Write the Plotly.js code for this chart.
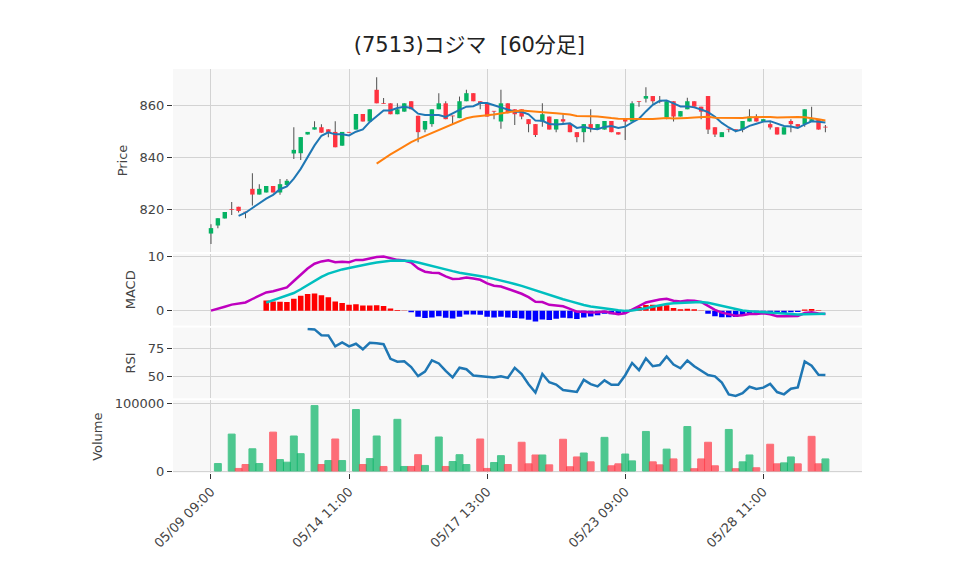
<!DOCTYPE html>
<html>
<head>
<meta charset="utf-8">
<script src="https://cdn.plot.ly/plotly-3.0.1.min.js"></script>
<style>html,body{margin:0;padding:0;background:#fff;}#chart{width:958px;height:575px;}</style>
</head>
<body>
<div id="chart"></div>
<script>
// ---- data ----
const days = ["05/09","05/10","05/13","05/14","05/15","05/16","05/17","05/20","05/21","05/22","05/23","05/24","05/27","05/28","05/29"];
const hours = ["09:00","10:00","11:00","12:00","13:00","14:00"];

const openP = [810.9,814.0,816.7,820.2,821.2,819.2,828.1,825.9,826.7,829.2,
826.7,829.6,841.7,841.8,849.0,850.9,851.8,851.0,850.0,844.7,
850.0,850.9,856.9,854.0,866.2,861.0,861.0,856.8,857.8,861.8,
856.2,850.9,853.0,858.7,861.0,856.2,855.3,861.8,864.9,861.8,
861.0,858.0,854.0,861.0,858.7,858.7,854.9,853.0,854.0,855.9,
850.9,854.9,853.0,849.9,849.9,853.0,851.2,850.9,854.2,849.9,
854.9,854.0,861.8,862.8,863.8,861.8,855.6,861.8,855.9,858.7,
861.8,859.7,863.8,851.8,848.0,851.2,850.9,850.9,854.0,855.9,
854.0,853.0,851.8,849.0,854.2,853.0,853.0,854.0,854.9,851.8];
const highP = [814.5,816.8,819.2,823.0,821.2,819.3,834.1,829.9,829.2,829.2,
831.9,831.9,851.8,848.0,850.0,854.1,852.9,851.0,854.1,850.0,
850.0,856.9,856.9,858.7,871.0,863.0,861.0,861.0,861.0,861.8,
856.2,854.2,858.7,864.9,861.8,856.2,863.6,866.2,864.9,861.8,
861.0,858.0,866.2,861.0,858.7,858.7,854.9,853.0,861.0,855.9,
854.9,856.8,853.0,849.9,853.0,858.7,853.0,854.2,854.2,849.9,
854.9,861.8,861.8,867.2,863.8,863.8,861.8,861.8,858.0,863.1,
861.8,859.7,863.8,851.8,849.9,851.2,850.9,854.2,858.7,856.8,
854.9,854.2,851.8,851.8,854.9,853.0,858.7,859.7,854.9,852.7];
const lowP = [806.9,812.9,816.7,818.0,819.0,816.8,821.7,825.9,826.7,826.7,
825.8,829.2,839.6,839.2,849.0,850.9,849.7,847.9,844.1,844.7,
849.7,850.9,854.0,854.0,861.0,860.8,856.8,856.8,857.8,858.7,
846.0,849.9,852.0,858.7,854.9,853.0,855.3,861.8,861.8,858.7,
855.9,854.9,851.2,857.2,852.7,854.9,849.9,848.0,852.0,850.9,
849.9,853.0,849.9,846.0,846.0,849.9,851.2,850.9,849.9,849.0,
846.9,854.0,859.7,861.3,860.8,861.0,854.9,854.0,855.9,858.7,
859.7,854.9,849.2,848.0,848.0,849.9,849.9,849.9,854.0,854.0,
854.0,850.9,849.0,849.0,849.9,852.0,852.0,854.0,850.9,849.9];
const closeP = [813.0,816.8,819.2,820.0,819.6,819.0,825.9,828.1,829.2,826.7,
829.9,831.2,843.1,848.0,850.0,851.8,849.7,849.7,844.1,850.0,
849.7,856.9,854.0,858.7,861.0,860.8,856.8,858.7,861.0,858.7,
849.9,854.2,858.7,861.0,854.9,856.0,861.8,864.9,861.8,861.0,
855.9,857.8,861.0,857.2,856.8,855.9,853.0,848.8,856.8,850.9,
854.9,854.0,849.9,848.0,853.0,851.4,853.0,854.2,849.9,849.0,
854.0,861.0,861.6,863.8,861.8,861.6,861.8,855.9,858.0,861.8,
859.7,857.8,850.9,849.0,849.9,850.9,850.8,854.2,855.9,854.0,
854.9,851.7,849.0,851.8,853.0,852.0,858.7,854.9,850.9,851.7];
const volume = [null,11000,null,54300,3800,9600,32700,11000,null,57200,
16800,13000,51500,25500,null,96200,9600,15400,47100,15400,
null,90400,9600,18300,51500,6700,null,76000,6700,6700,
24000,8200,null,50000,6700,14000,24000,9600,null,47100,
3800,12500,22600,9600,null,42300,10600,23600,23600,9100,
null,46700,6300,20700,26500,13500,null,49500,7700,10600,
25000,14900,null,58200,13500,9100,32200,17800,null,65400,
3400,17800,42300,7700,null,61100,3400,13500,23600,4800,
null,39400,10600,12000,20700,10600,null,51000,10600,17800];
const tickIdx = [0,20,40,60,80];

// ---- derived ----
const labels = [];
days.forEach(d => hours.forEach(h => labels.push(d + " " + h)));
const N = closeP.length;
const xs = closeP.map((_, i) => i);

function sma(a, n){ return a.map((_, i) => { if (i < n-1) return null; let s=0; for (let k=i-n+1;k<=i;k++) s+=a[k]; return s/n; }); }
function ema(a, n){ const al=2/(n+1); const o=[]; a.forEach((v,i)=>{ o.push(i===0? v : al*v+(1-al)*o[i-1]); }); return o; }

const ma5 = sma(closeP, 5), ma25 = sma(closeP, 25);
const e12 = ema(closeP, 12), e26 = ema(closeP, 26);
const macd = e12.map((v,i)=> v - e26[i]);
const signal = new Array(N).fill(null);
{ let s=0; for (let i=0;i<9;i++) s+=macd[i]; signal[8]=s/9; const al=2/10;
  for (let i=9;i<N;i++) signal[i]=al*macd[i]+(1-al)*signal[i-1]; }
const hist = macd.map((v,i)=> signal[i]===null ? null : v - signal[i]);

const rsi = new Array(N).fill(null);
for (let i=14;i<N;i++){ let g=0,l=0; for (let k=i-13;k<=i;k++){ const d=closeP[k]-closeP[k-1]; if(d>0) g+=d; else l-=d; } rsi[i]= (g+l)===0?50:100*g/(g+l); }

const UP = '#05b263', DN = '#ff3340';
const bodyBase = openP.map((o,i)=> Math.min(o, closeP[i]));
const bodyH = openP.map((o,i)=> Math.max(Math.abs(closeP[i]-o), 0.3));
const bodyCol = openP.map((o,i)=> closeP[i] >= o ? UP : DN);
const volCol = volume.map((v,i)=> i>0 && closeP[i] >= closeP[i-1] ? UP : DN);

const fam = '"DejaVu Sans", Verdana, sans-serif';
const tfont = {family:fam, size:13, color:'#444'};
const ax = {showgrid:true, gridcolor:'#d3d3d3', zeroline:false, ticks:'outside', ticklen:5, tickcolor:'#333', linecolor:'#fff'};
const xcommon = Object.assign({}, ax, {range:[-5.5,94.3], tickmode:'array', tickvals:tickIdx, ticktext:tickIdx.map(i=>labels[i]), showline:false});

const traces = [
 {type:'bar', x:xs, base:lowP, y:highP.map((h,i)=>h-lowP[i]), width:0.15, marker:{color:'#555', line:{width:0}}, xaxis:'x', yaxis:'y', hoverinfo:'skip'},
 {type:'bar', x:xs, base:bodyBase, y:bodyH, width:0.64, marker:{color:bodyCol, line:{width:0}}, xaxis:'x', yaxis:'y'},
 {type:'scatter', mode:'lines', x:xs, y:ma5, line:{color:'#1f77b4', width:2}, xaxis:'x', yaxis:'y'},
 {type:'scatter', mode:'lines', x:xs, y:ma25, line:{color:'#ff7f0e', width:2}, xaxis:'x', yaxis:'y'},
 {type:'bar', x:xs, y:hist, width:0.8, marker:{color:hist.map(v=> v!==null && v>=0 ? '#ff0000' : '#0000ff'), line:{width:0}}, xaxis:'x2', yaxis:'y2'},
 {type:'scatter', mode:'lines', x:xs, y:macd, line:{color:'#bf00bf', width:2.5}, xaxis:'x2', yaxis:'y2'},
 {type:'scatter', mode:'lines', x:xs, y:signal, line:{color:'#00bfbf', width:2.5}, xaxis:'x2', yaxis:'y2'},
 {type:'scatter', mode:'lines', x:xs, y:rsi, line:{color:'#1f77b4', width:2.5}, xaxis:'x3', yaxis:'y3'},
 {type:'bar', x:xs, y:volume, width:1, marker:{color:volCol, opacity:0.7, line:{color:volCol, width:1}}, xaxis:'x4', yaxis:'y4'}
];

const font = {family:fam, size:13, color:'#444'};
const layout = {
  width:958, height:575, margin:{l:173, r:96, t:69, b:102},
  paper_bgcolor:'#fff', plot_bgcolor:'#f8f8f8', showlegend:false, barmode:'overlay',
  font: font,
  title:{text:'(7513)コジマ  [60分足]', x:0.49, xanchor:'center', y:1-45/575, yanchor:'middle', font:{family:'"DejaVu Sans", "Noto Sans CJK JP", sans-serif', size:21, color:'#222'}},
  xaxis: Object.assign({}, xcommon, {anchor:'y', showticklabels:false, ticks:''}),
  xaxis2: Object.assign({}, xcommon, {anchor:'y2', showticklabels:false, ticks:''}),
  xaxis3: Object.assign({}, xcommon, {anchor:'y3', showticklabels:false, ticks:''}),
  xaxis4: Object.assign({}, xcommon, {anchor:'y4', tickangle:-45}),
  yaxis: Object.assign({}, ax, {domain:[0.547,1], range:[803.8,874.2], dtick:20, title:{text:'Price', font:tfont, standoff:9}}),
  yaxis2: Object.assign({}, ax, {domain:[0.365,0.542], range:[-2.76,10.5], tickvals:[0,10], title:{text:'MACD', font:tfont, standoff:9}}),
  yaxis3: Object.assign({}, ax, {domain:[0.185,0.36], range:[30.6,93.3], tickvals:[50,75], title:{text:'RSI', font:tfont, standoff:9}}),
  yaxis4: Object.assign({}, ax, {domain:[0,0.18], range:[-2900,104000], tickvals:[0,100000], ticktext:['0','100000'], title:{text:'Volume', font:tfont, standoff:9}})
};
Plotly.newPlot('chart', traces, layout, {displayModeBar:false, staticPlot:true});
</script>
</body>
</html>
